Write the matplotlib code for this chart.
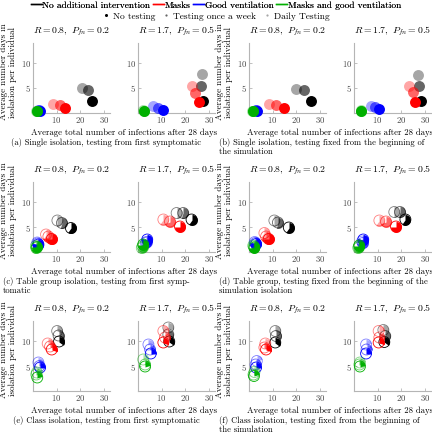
import numpy as np
import matplotlib
matplotlib.use('Agg')
import matplotlib.pyplot as plt
from matplotlib.path import Path
from matplotlib.lines import Line2D

plt.rcParams['font.family'] = 'serif'
plt.rcParams['font.serif'] = ['cmr10', 'DejaVu Serif']
plt.rcParams['mathtext.fontset'] = 'cm'
plt.rcParams['axes.formatter.use_mathtext'] = True

# ---------------- data ----------------
groups = ['No additional intervention', 'Masks', 'Good ventilation', 'Masks and good ventilation']
testing = ['No testing', 'Testing once a week', 'Daily Testing']
titles = [r'$R=0.8,\ P_{fn}=0.2$', r'$R=1.7,\ P_{fn}=0.5$']
captions = ['(a) Single isolation, testing from first symptomatic',
            '(b) Single isolation, testing fixed from the beginning of\nthe simulation',
            '(c) Table group isolation, testing from first symp-\ntomatic',
            '(d) Table group, testing fixed from the beginning of the\nsimulation isolation',
            '(e) Class isolation, testing from first symptomatic',
            '(f) Class isolation, testing fixed from the beginning of\nthe simulation']

# rows: groups (black, red, blue, green); columns: no testing, weekly, daily
# x = average total number of infections, y = average days in isolation
inf_a1 = [[25.0, 23.1, 20.7], [13.6, 11.2, 8.4], [3.0, 2.6, 2.3], [1.6, 1.5, 1.4]]
iso_a1 = [[2.3, 4.6, 4.9], [0.9, 1.6, 1.7], [0.4, 0.5, 0.6], [0.3, 0.35, 0.4]]
inf_a2 = [[27.6, 26.5, 26.9], [25.9, 24.1, 22.7], [10.4, 8.6, 6.5], [2.5, 2.4, 2.3]]
iso_a2 = [[2.4, 5.3, 7.7], [2.1, 3.9, 5.3], [0.6, 0.9, 1.3], [0.4, 0.45, 0.5]]

inf_b1 = [[26.0, 23.1, 19.7], [14.6, 11.2, 8.6], [3.3, 3.0, 2.8], [1.6, 1.5, 1.4]]
iso_b1 = [[2.3, 4.6, 4.7], [0.9, 1.6, 1.7], [0.4, 0.5, 0.6], [0.3, 0.35, 0.4]]
inf_b2 = [[28.3, 27.3, 26.9], [25.9, 24.8, 23.3], [10.4, 8.9, 7.2], [3.0, 2.9, 2.8]]
iso_b2 = [[2.3, 5.3, 7.6], [2.1, 4.1, 5.4], [0.7, 1.1, 1.4], [0.4, 0.45, 0.5]]

inf_c1 = [[16.0, 12.2, 10.3], [7.9, 6.5, 5.5], [2.3, 2.0, 1.8], [1.6, 1.4, 1.2]]
iso_c1 = [[4.8, 5.8, 6.3], [2.6, 3.1, 3.5], [1.5, 1.7, 1.9], [1.0, 0.8, 1.2]]
inf_c2 = [[22.6, 19.1, 16.3], [17.7, 13.5, 10.7], [3.9, 3.6, 3.3], [2.2, 1.9, 1.6]]
iso_c2 = [[6.5, 7.8, 7.8], [5.1, 6.1, 6.5], [2.5, 2.0, 1.8], [1.5, 1.1, 0.8]]

inf_d1 = [[16.8, 12.2, 10.7], [8.3, 7.2, 6.5], [3.0, 2.7, 2.4], [2.3, 2.0, 1.8]]
iso_d1 = [[4.9, 5.9, 6.3], [2.6, 3.1, 3.8], [1.6, 1.8, 2.0], [0.9, 1.1, 1.3]]
inf_d2 = [[21.7, 19.4, 17.0], [17.7, 13.5, 10.7], [3.9, 3.7, 3.4], [2.2, 2.0, 1.8]]
iso_d2 = [[6.5, 8.0, 8.0], [5.1, 6.1, 6.3], [2.5, 1.8, 2.1], [1.3, 1.0, 0.8]]

inf_e1 = [[11.0, 10.8, 10.2], [7.9, 7.2, 6.2], [3.0, 2.7, 2.3], [1.8, 1.4, 1.6]]
iso_e1 = [[9.9, 11.1, 12.0], [8.3, 8.9, 9.5], [4.7, 5.0, 5.7], [2.7, 3.3, 3.7]]
inf_e2 = [[13.2, 12.8, 12.8], [10.7, 11.4, 10.7], [5.4, 5.1, 4.4], [3.0, 3.0, 2.2]]
iso_e2 = [[9.9, 11.3, 12.7], [9.7, 10.7, 12.0], [7.5, 8.3, 9.3], [4.9, 5.3, 6.3]]

inf_f1 = [[11.1, 11.4, 11.1], [7.2, 6.5, 6.9], [3.0, 2.8, 3.3], [2.1, 1.9, 2.3]]
iso_f1 = [[9.7, 11.0, 12.0], [8.3, 8.7, 9.5], [4.7, 5.3, 6.0], [3.0, 3.3, 3.8]]
inf_f2 = [[12.8, 13.2, 12.4], [10.4, 10.7, 10.4], [5.1, 5.3, 5.1], [2.5, 2.3, 2.5]]
iso_f2 = [[9.8, 11.0, 12.2], [9.7, 10.7, 12.0], [7.5, 8.3, 9.3], [4.9, 5.3, 5.7]]

# filled share of each circle
fill_single = [[1, 1, 1], [1, 1, 1], [1, 1, 1], [1, 1, 1]]
fill_table = [[0.6, 0.55, 0.5], [0.75, 0.7, 0.6], [0.8, 0.75, 0.7], [0.75, 0.7, 0.65]]
fill_class = [[0.35, 0.35, 0.3], [0.3, 0.3, 0.25], [0.25, 0.25, 0.2], [0.2, 0.2, 0.2]]

colors = ['black', 'red', 'blue', '#00b000']
alphas = [1.0, 0.6, 0.35]
S = 62

panels = [
    (inf_a1, iso_a1, inf_a2, iso_a2, fill_single),
    (inf_b1, iso_b1, inf_b2, iso_b2, fill_single),
    (inf_c1, iso_c1, inf_c2, iso_c2, fill_table),
    (inf_d1, iso_d1, inf_d2, iso_d2, fill_table),
    (inf_e1, iso_e1, inf_e2, iso_e2, fill_class),
    (inf_f1, iso_f1, inf_f2, iso_f2, fill_class),
]


def wedge_marker(f):
    # clockwise from 12 o'clock, all vertices on the unit circle
    t = np.linspace(0, 2 * np.pi * f, max(int(80 * f), 2) + 1)
    verts = [(0, 0)] + list(zip(np.sin(t), np.cos(t))) + [(0, 0)]
    codes = [Path.MOVETO] + [Path.LINETO] * len(t) + [Path.CLOSEPOLY]
    return Path(verts, codes)


def draw_points(ax, xs, ys, fills):
    for ci, col in enumerate(colors):
        for ti in [2, 1, 0]:
            a = alphas[ti]
            f = fills[ci][ti]
            if f >= 0.99:
                ax.scatter(xs[ci][ti], ys[ci][ti], s=S, marker='o', color=col,
                           alpha=a, lw=0, clip_on=False, zorder=3)
            else:
                ax.scatter(xs[ci][ti], ys[ci][ti], s=S, marker='o', facecolor='none',
                           edgecolor=col, alpha=max(a, 0.5), lw=0.6, clip_on=False, zorder=3)
                ax.scatter(xs[ci][ti], ys[ci][ti], s=S, marker=wedge_marker(f),
                           facecolor=col, alpha=a, lw=0, clip_on=False, zorder=3)


def setup(ax, title):
    ax.set_xlim(0, 32.5)
    ax.set_ylim(0, 14)
    ax.patch.set_alpha(0)
    for s in ['top', 'right']:
        ax.spines[s].set_visible(False)
    for s in ['left', 'bottom']:
        ax.spines[s].set_color('#b5b5b5')
        ax.spines[s].set_linewidth(0.8)
    ax.set_xticks([10, 20, 30])
    ax.set_yticks([5, 10])
    ax.tick_params(labelsize=6.3, colors='#b5b5b5', labelcolor='#444444',
                   length=2, width=0.6, direction='in', pad=1.5)
    ax.text(0.5, 1.16, title, transform=ax.transAxes, ha='center', va='center', fontsize=7)


W, H = 432.0, 440.0
fig = plt.figure(figsize=(4.32, 4.40), dpi=100)

row_y0 = [113, 252, 391]
col_x0 = [[33, 138], [249, 354]]
aw, ah = 77, 70

for k, (x1, y1, x2, y2, fills) in enumerate(panels):
    r, c = k // 2, k % 2
    for j, (xs, ys) in enumerate([(x1, y1), (x2, y2)]):
        ax = fig.add_axes([col_x0[c][j] / W, 1 - row_y0[r] / H, aw / W, ah / H])
        setup(ax, titles[j])
        draw_points(ax, xs, ys, fills)
    off = 216 * c
    fig.text((off + 8) / W, 1 - (row_y0[r] - ah / 2 - 6) / H,
             'Average number days in\nisolation per individual',
             rotation=90, ha='center', va='center', fontsize=6.5, linespacing=1.1)
    fig.text((off + 124) / W, 1 - (row_y0[r] + 20) / H,
             'Average total number of infections after 28 days',
             ha='center', va='center', fontsize=6.3)
    if '\n' in captions[k]:
        fig.text((off + 3) / W, 1 - (row_y0[r] + 25) / H, captions[k],
                 ha='left', va='top', fontsize=6.1, linespacing=1.15)
    else:
        fig.text((off + 106) / W, 1 - (row_y0[r] + 25) / H, captions[k],
                 ha='center', va='top', fontsize=6.1)

h1 = [Line2D([], [], color=c, lw=1) for c in colors]
leg1 = fig.legend(h1, groups, loc='upper center', bbox_to_anchor=(0.5, 1.0), ncol=4,
                  frameon=False, fontsize=6.8, handlelength=1.1, handletextpad=0.1,
                  columnspacing=0.3, borderaxespad=0, borderpad=0.1)
fig.add_artist(leg1)
h2 = [Line2D([], [], color='black', marker='o', ls='', markersize=ms, alpha=a, markeredgewidth=0)
      for ms, a in zip([2.2, 1.6, 1.6], alphas)]
fig.legend(h2, testing, loc='upper center', bbox_to_anchor=(0.5, 1 - 11 / H), ncol=3,
           frameon=False, fontsize=6.8, handlelength=0.8, handletextpad=0.3,
           columnspacing=0.8, borderaxespad=0, borderpad=0.1)

fig.savefig('out.png', dpi=100)
